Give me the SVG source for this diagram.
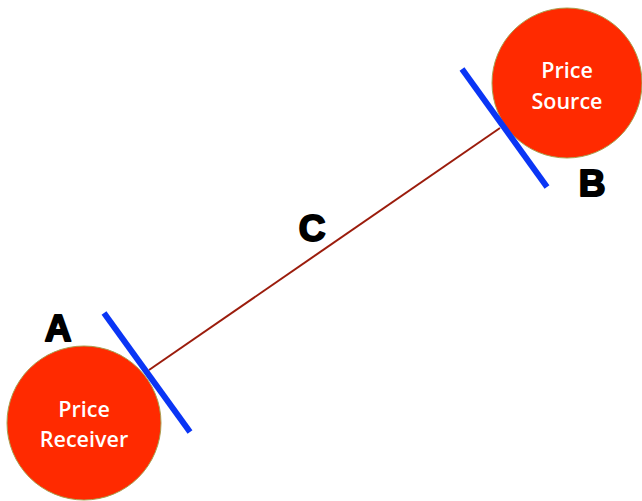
<svg xmlns="http://www.w3.org/2000/svg" width="642" height="501" viewBox="0 0 642 501">
<style>
.node{fill:#ff2a00;stroke:#a8a050;stroke-width:1}
.nt{font-family:"Open Sans","Liberation Sans",sans-serif;font-weight:600;font-size:21.5px;fill:#ffffff;text-anchor:middle}
.lbl{font-family:"Liberation Sans",Arial,sans-serif;font-weight:900;font-size:37px;fill:#000000;stroke:#000000;stroke-width:2;stroke-linejoin:round;text-anchor:middle}
.bar{stroke:#0a35f5;stroke-width:6;stroke-linecap:butt}
</style>
<rect width="642" height="501" fill="#ffffff"/>
<g id="connectors">
<line x1="149" y1="370" x2="500" y2="128" stroke="#9b1c0c" stroke-width="2"/>
</g>
<g id="receiver">
<circle class="node" cx="84" cy="423" r="77"/>
<text class="nt" x="84" y="417">Price</text>
<text class="nt" x="84" y="447">Receiver</text>
</g>
<g id="source">
<circle class="node" cx="567" cy="83" r="75"/>
<text class="nt" x="567" y="78">Price</text>
<text class="nt" x="567" y="109">Source</text>
</g>
<g id="endA">
<line class="bar" x1="104" y1="313" x2="190" y2="432"/>
<text class="lbl" x="58" y="341">A</text>
</g>
<g id="endB">
<line class="bar" x1="462" y1="69" x2="547" y2="187"/>
<text class="lbl" x="592" y="196">B</text>
</g>
<g id="labelC">
<text class="lbl" x="312" y="241">C</text>
</g>
</svg>
